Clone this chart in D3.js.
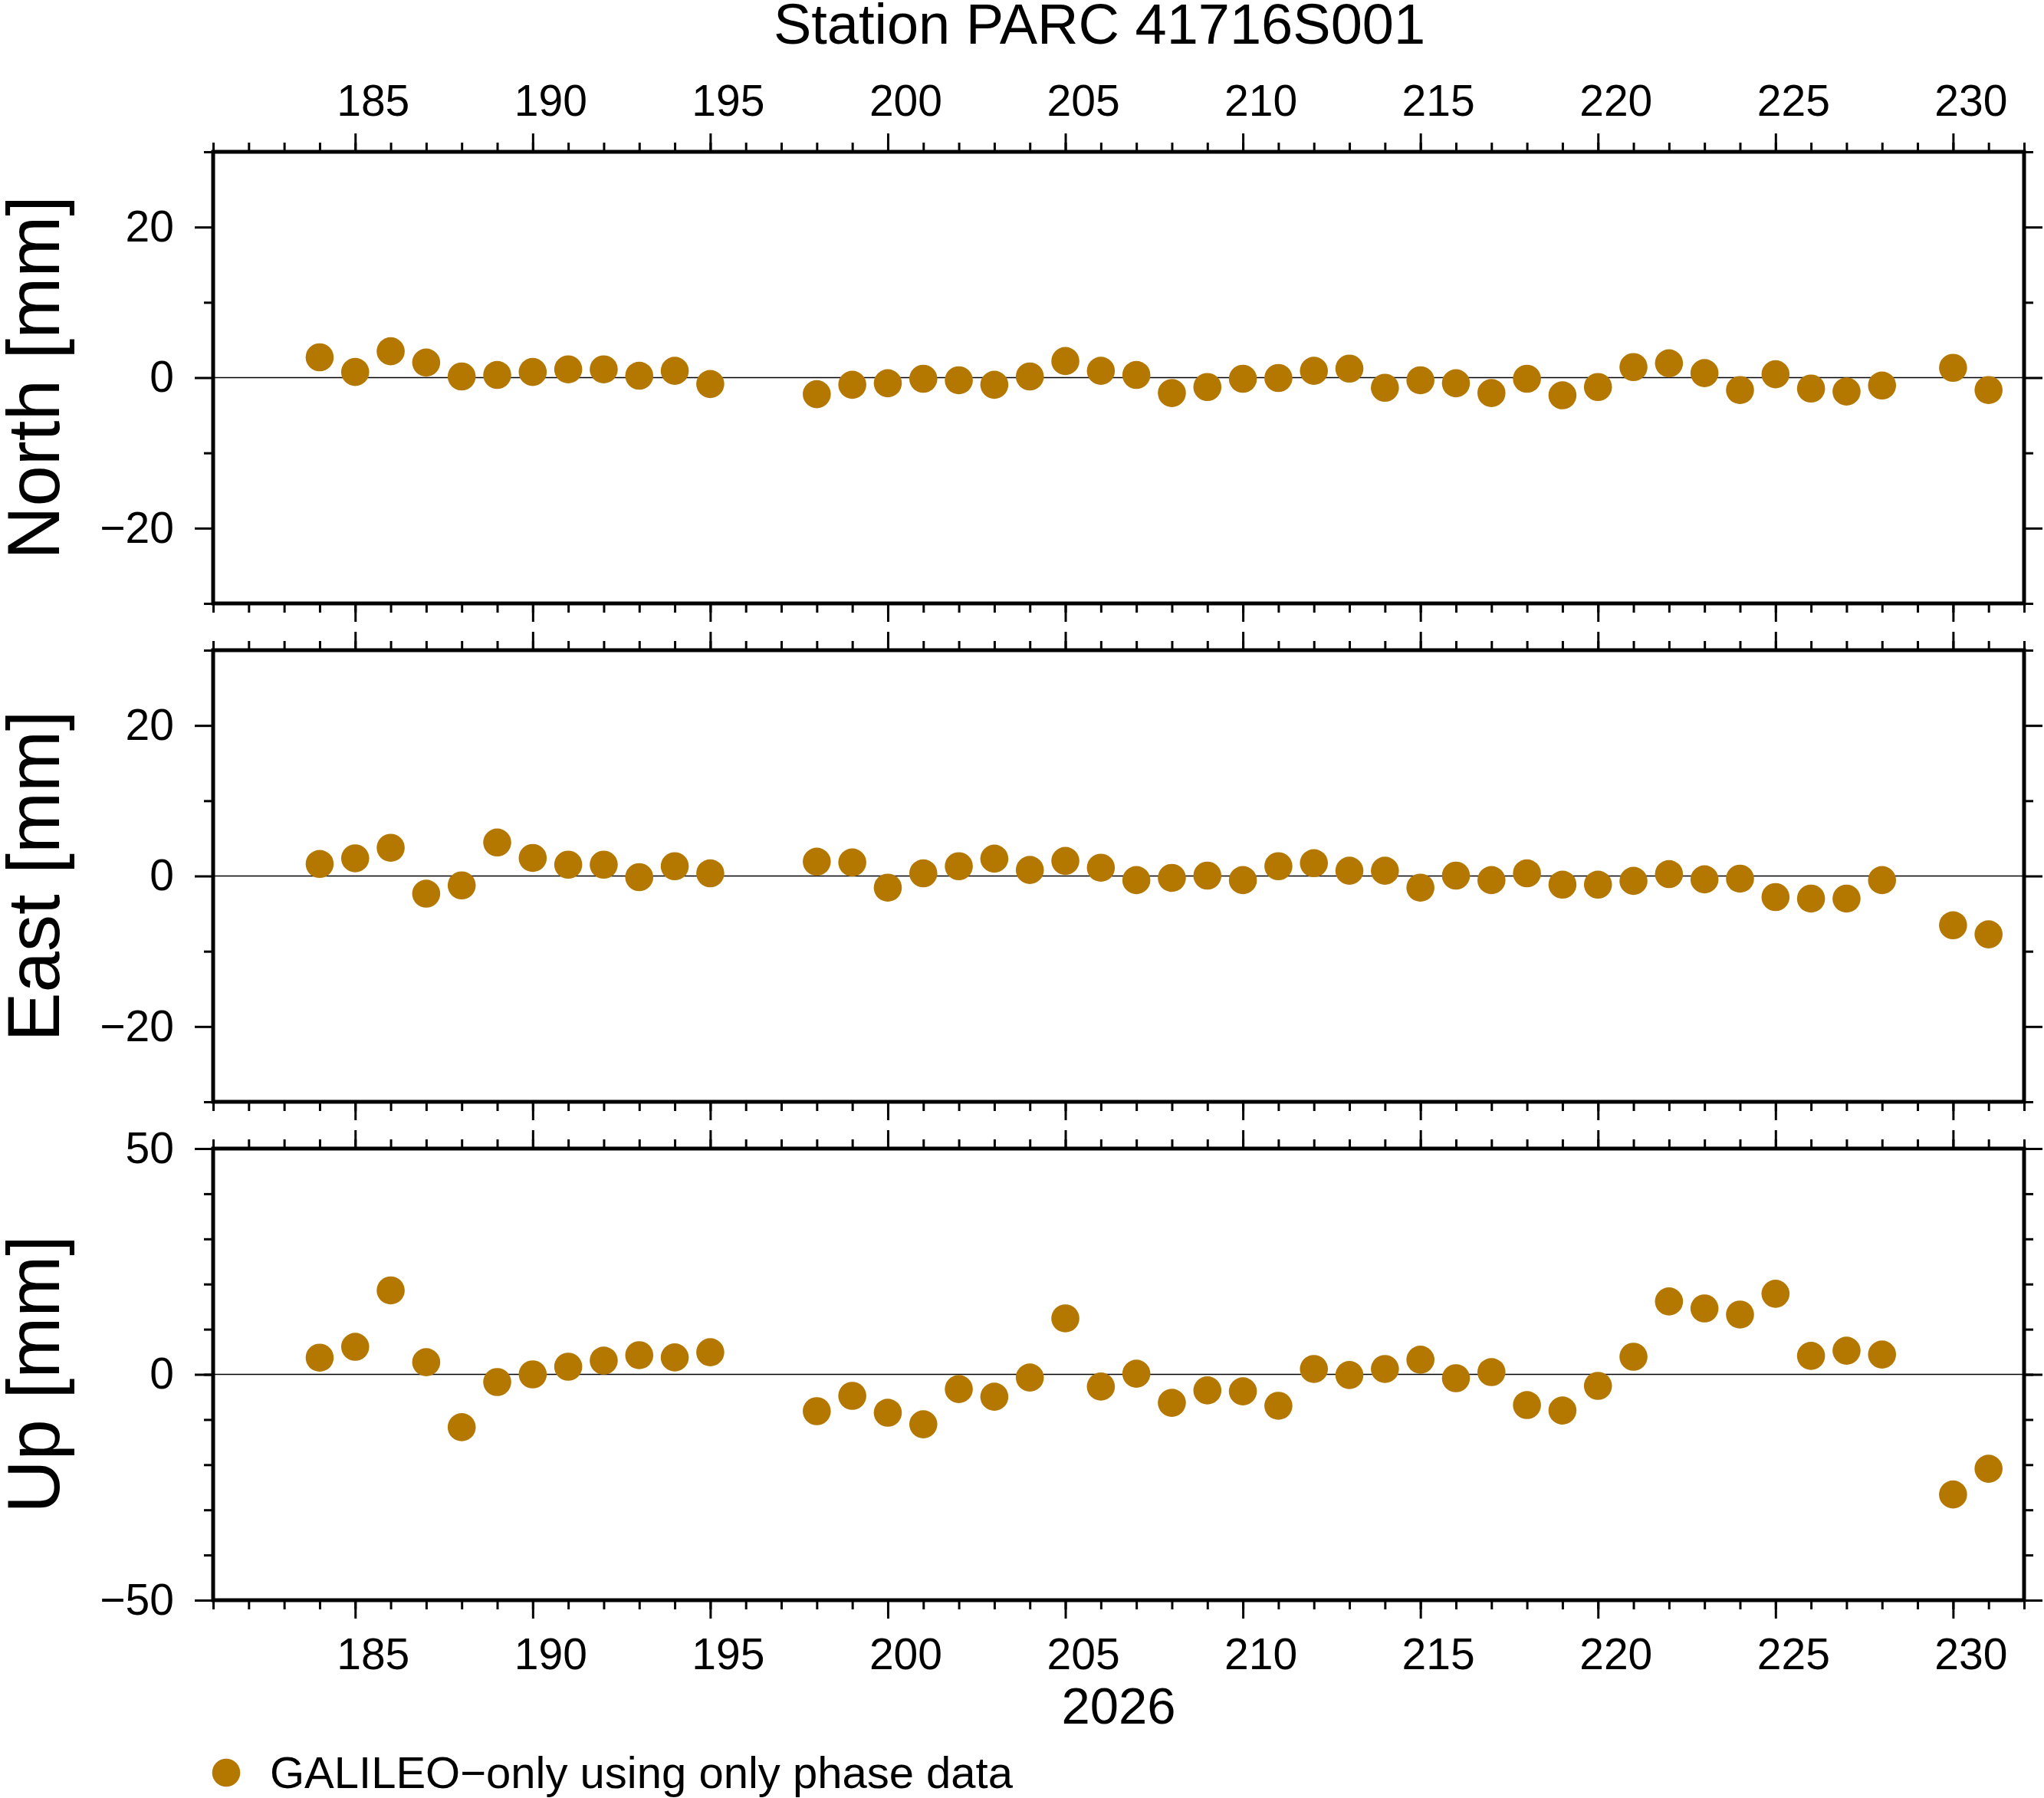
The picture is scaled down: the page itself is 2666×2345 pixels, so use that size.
<!DOCTYPE html>
<html>
<head>
<meta charset="utf-8">
<script src="https://cdn.jsdelivr.net/npm/d3@7"></script>
<style>
  body { margin: 0; background: #fff; }
  text { font-family: "Liberation Sans", Arial, Helvetica, sans-serif; fill: #000; }
</style>
</head>
<body>
<div id="chart"></div>
<script>
// Data: day of year 2026 and daily offsets (mm)
const days = [184, 185, 186, 187, 188, 189, 190, 191, 192, 193, 194, 195,
    198, 199, 200, 201, 202, 203, 204, 205, 206,
    207, 208, 209, 210, 211, 212, 213, 214, 215, 216, 217, 218, 219, 220,
    221, 222, 223, 224, 225, 226, 227, 228,
    230, 231];

const north = [2.7, 0.75, 3.5, 2.0, 0.15, 0.35, 0.75, 1.1, 1.1, 0.25, 0.9, -0.85,
    -2.2, -0.95, -0.75, -0.15, -0.35, -0.95, 0.15, 2.2, 0.9,
    0.35, -2.05, -1.25, -0.15, -0.05, 0.9, 1.2, -1.35, -0.35, -0.75, -2.05, -0.15, -2.35, -1.25,
    1.4, 1.9, 0.6, -1.65, 0.45, -1.45, -1.85, -1.05,
    1.3, -1.65];

const east = [1.6, 2.35, 3.75, -2.35, -1.25, 4.45, 2.4, 1.5, 1.5, -0.15, 1.3, 0.35,
    1.9, 1.8, -1.55, 0.35, 1.3, 2.3, 0.8, 2.0, 1.1,
    -0.55, -0.25, 0.05, -0.55, 1.3, 1.7, 0.7, 0.7, -1.55, 0.05, -0.55, 0.35, -1.15, -1.15,
    -0.65, 0.25, -0.45, -0.35, -2.8, -3.0, -3.0, -0.55,
    -6.55, -7.75];

const up = [3.7, 6.1, 18.6, 2.7, -11.7, -1.7, 0.0, 1.7, 3.05, 4.25, 3.75, 4.9,
    -8.15, -4.75, -8.5, -11.05, -3.25, -4.95, -0.7, 12.4, -2.7,
    0.15, -6.3, -3.55, -3.75, -6.95, 1.2, -0.15, 1.2, 3.25, -0.85, 0.5, -6.8, -8.0, -2.55,
    3.9, 16.15, 14.6, 13.25, 17.85, 4.1, 5.25, 4.4,
    -26.6, -20.9];

// Axis settings
const xDomain = [181, 232];
const xMajorTicks = d3.range(185, 231, 5);
const xMinorTicks = d3.range(181, 233, 1);
const yDomainNE = [-30, 30];
const yMajorNE = [-20, 0, 20];
const yMinorNE = [-30, -10, 10, 30];
const yDomainUp = [-50, 50];
const yMajorUp = [-50, 0, 50];
const yMinorUp = d3.range(-50, 51, 10);

const panelNames = ["North [mm]", "East [mm]", "Up [mm]"];
const titleText = "Station PARC 41716S001";
const xTitle = "2026";
const legendText = "GALILEO\u2212only using only phase data";

// Layout
const W = 2666, H = 2345;
const left = 278, right = 2640;
const panelH = 589;
const panelTops = [198, 848, 1498];
const dotColor = "#b47800";
const majorLen = 24, minorLen = 12;
const font = "Liberation Sans, Arial, sans-serif";

const svg = d3.select("#chart")
    .append("svg")
    .attr("width", W)
    .attr("height", H)
    .style("display", "block");

svg.append("rect").attr("width", W).attr("height", H).attr("fill", "#fff");

const x = d3.scaleLinear().domain(xDomain).range([left, right]);

const panels = [
    {name: panelNames[0], values: north, domain: yDomainNE, major: yMajorNE, minor: yMinorNE},
    {name: panelNames[1], values: east, domain: yDomainNE, major: yMajorNE, minor: yMinorNE},
    {name: panelNames[2], values: up, domain: yDomainUp, major: yMajorUp, minor: yMinorUp}
];

// style an axis group: thick ticks, bigger labels, no domain line
function styleAxis(g, labelSize) {
    g.select(".domain").remove();
    g.attr("font-family", font).attr("font-size", labelSize);
    g.selectAll(".tick line").attr("stroke", "#000").attr("stroke-width", 3);
    g.selectAll(".tick text").attr("fill", "#000");
}

panels.forEach(function(p, i) {
    const top = panelTops[i];
    const bottom = top + panelH;
    const y = d3.scaleLinear().domain(p.domain).range([bottom, top]);

    const g = svg.append("g");

    // zero line
    g.append("line")
        .attr("x1", left).attr("x2", right)
        .attr("y1", y(0)).attr("y2", y(0))
        .attr("stroke", "#000")
        .attr("stroke-width", 1.5);

    // minor x ticks top and bottom
    g.append("g").attr("transform", "translate(0," + top + ")")
        .call(d3.axisTop(x).tickValues(xMinorTicks).tickSize(minorLen).tickFormat(""))
        .call(styleAxis, 57);
    g.append("g").attr("transform", "translate(0," + bottom + ")")
        .call(d3.axisBottom(x).tickValues(xMinorTicks).tickSize(minorLen).tickFormat(""))
        .call(styleAxis, 57);

    // major x ticks, labels only on top of first and bottom of last panel
    const topAxis = g.append("g").attr("transform", "translate(0," + top + ")")
        .call(d3.axisTop(x).tickValues(xMajorTicks).tickSize(majorLen).tickPadding(23)
            .tickFormat(i === 0 ? d3.format("d") : ""))
        .call(styleAxis, 57);
    topAxis.selectAll(".tick text").attr("dx", 23);

    const botAxis = g.append("g").attr("transform", "translate(0," + bottom + ")")
        .call(d3.axisBottom(x).tickValues(xMajorTicks).tickSize(majorLen).tickPadding(26)
            .tickFormat(i === panels.length - 1 ? d3.format("d") : ""))
        .call(styleAxis, 57);
    botAxis.selectAll(".tick text").attr("dx", 23);

    // y ticks left and right
    g.append("g").attr("transform", "translate(" + left + ",0)")
        .call(d3.axisLeft(y).tickValues(p.minor).tickSize(minorLen).tickFormat(""))
        .call(styleAxis, 57);
    g.append("g").attr("transform", "translate(" + left + ",0)")
        .call(d3.axisLeft(y).tickValues(p.major).tickSize(majorLen).tickPadding(27))
        .call(styleAxis, 57);
    g.append("g").attr("transform", "translate(" + right + ",0)")
        .call(d3.axisRight(y).tickValues(p.minor).tickSize(minorLen).tickFormat(""))
        .call(styleAxis, 57);
    g.append("g").attr("transform", "translate(" + right + ",0)")
        .call(d3.axisRight(y).tickValues(p.major).tickSize(majorLen).tickFormat(""))
        .call(styleAxis, 57);

    // frame
    g.append("rect")
        .attr("x", left).attr("y", top)
        .attr("width", right - left).attr("height", panelH)
        .attr("fill", "none")
        .attr("stroke", "#000")
        .attr("stroke-width", 5);

    // dots
    g.selectAll(".dot")
        .data(p.values)
        .enter().append("circle")
        .attr("class", "dot")
        .attr("cx", (d, k) => x(days[k]))
        .attr("cy", d => y(d))
        .attr("r", 18.3)
        .attr("fill", dotColor);

    // panel label
    svg.append("text")
        .attr("transform", "translate(77," + (top + panelH / 2) + ") rotate(-90)")
        .attr("text-anchor", "middle")
        .attr("font-size", 96)
        .text(p.name);
});

// title
svg.append("text")
    .attr("x", 1434)
    .attr("y", 57)
    .attr("text-anchor", "middle")
    .attr("font-size", 74)
    .text(titleText);

// x axis title
svg.append("text")
    .attr("x", (left + right) / 2)
    .attr("y", 2248)
    .attr("text-anchor", "middle")
    .attr("font-size", 67)
    .text(xTitle);

// legend
svg.append("circle")
    .attr("cx", 295)
    .attr("cy", 2312)
    .attr("r", 18.3)
    .attr("fill", dotColor);

svg.append("text")
    .attr("x", 352)
    .attr("y", 2332)
    .attr("font-size", 58)
    .text(legendText);
</script>
</body>
</html>
